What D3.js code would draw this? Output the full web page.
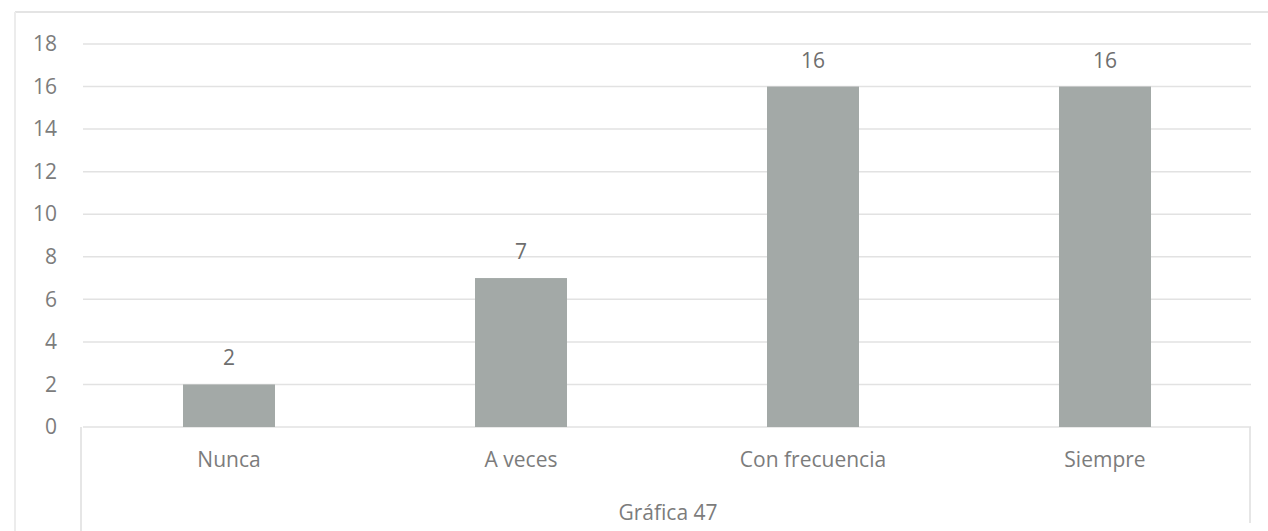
<!DOCTYPE html>
<html><head><meta charset="utf-8">
<script src="https://cdn.jsdelivr.net/npm/d3@7"></script>
<style>body{margin:0;background:#fff;}svg{display:block;}text{font-family:"Open Sans","Liberation Sans",sans-serif;}</style>
</head><body><svg id="c" width="1268" height="531"></svg>
<script>
const categories = ["Nunca", "A veces", "Con frecuencia", "Siempre"];
const values = [2, 7, 16, 16];
const yTicks = [0, 2, 4, 6, 8, 10, 12, 14, 16, 18];
const axisTitle = "Gráfica 47";

const svg = d3.select("#c");
const W = 1268, H = 531;
const FS = 21;
const TXT = "#7c7c7c";
const m = {left: 83, right: 17, top: 44, bottom: 104};
const x = d3.scaleBand().domain(categories).range([m.left, W - m.right]).paddingInner(0.685).paddingOuter(0.3425);
const y = d3.scaleLinear().domain([0, 18]).range([H - m.bottom, m.top]);

// outer frame lines
svg.append("line").attr("x1", 15).attr("x2", W).attr("y1", 12).attr("y2", 12).attr("stroke", "#e4e4e4").attr("stroke-width", 2);
svg.append("line").attr("x1", 15).attr("x2", 15).attr("y1", 12).attr("y2", H).attr("stroke", "#ececec").attr("stroke-width", 2);
svg.append("line").attr("x1", 81).attr("x2", 81).attr("y1", y(0)).attr("y2", H).attr("stroke", "#e6e6e6").attr("stroke-width", 2);
svg.append("line").attr("x1", 1250).attr("x2", 1250).attr("y1", y(0)).attr("y2", H - 8).attr("stroke", "#e6e6e6").attr("stroke-width", 2);

// gridlines
svg.append("g").selectAll("line").data(yTicks).join("line")
  .attr("x1", m.left).attr("x2", W - m.right)
  .attr("y1", d => y(d)).attr("y2", d => y(d))
  .attr("stroke", "#e2e2e2").attr("stroke-width", 1.5);

// y axis
const ya = svg.append("g").attr("transform", `translate(${m.left - 26},0)`)
  .call(d3.axisLeft(y).tickValues(yTicks).tickSize(0).tickPadding(0));
ya.select(".domain").remove();
ya.selectAll("text").attr("font-size", FS).attr("fill", TXT);

// bars
svg.append("g").selectAll("rect").data(values).join("rect")
  .attr("x", (d, i) => x(categories[i])).attr("width", x.bandwidth())
  .attr("y", d => y(d)).attr("height", d => y(0) - y(d))
  .attr("fill", "#a3a9a7");

// value labels
svg.append("g").selectAll("text").data(values).join("text")
  .attr("x", (d, i) => x(categories[i]) + x.bandwidth() / 2)
  .attr("y", d => y(d) - 19)
  .attr("text-anchor", "middle").attr("font-size", FS).attr("fill", "#6e6e6e")
  .text(d => d);

// x axis
const xa = svg.append("g").attr("transform", `translate(0,${y(0)})`)
  .call(d3.axisBottom(x).tickSize(0).tickPadding(25));
xa.select(".domain").remove();
xa.selectAll("text").attr("font-size", FS).attr("fill", TXT);

svg.append("text").attr("x", 668).attr("y", 520).attr("text-anchor", "middle")
  .attr("font-size", FS).attr("fill", TXT).text(axisTitle);
</script></body></html>
